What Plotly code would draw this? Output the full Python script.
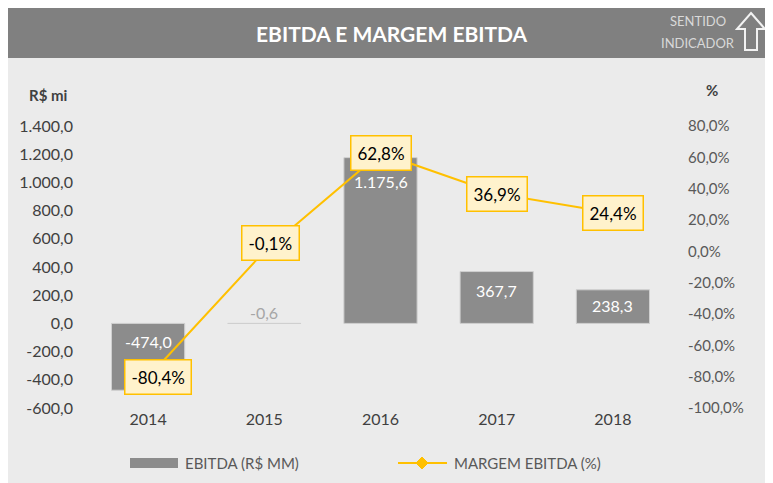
import plotly.graph_objects as go

years = ["2014", "2015", "2016", "2017", "2018"]
ebitda = [-474.0, -0.6, 1175.6, 367.7, 238.3]
margem = [-80.4, -0.1, 62.8, 36.9, 24.4]

y1_ticks = [-600, -400, -200, 0, 200, 400, 600, 800, 1000, 1200, 1400]
y1_labels = ["-600,0", "-400,0", "-200,0", "0,0", "200,0", "400,0", "600,0",
             "800,0", "1.000,0", "1.200,0", "1.400,0"]
y2_ticks = [-100, -80, -60, -40, -20, 0, 20, 40, 60, 80]
y2_labels = ["-100,0%", "-80,0%", "-60,0%", "-40,0%", "-20,0%", "0,0%",
             "20,0%", "40,0%", "60,0%", "80,0%"]

# label offsets (pixels)
box_dx = [10, 6, 0, 0, 0]
box_dy = [0, 8, 0, 0, 0]
bar_dy = [-18, 11, -24, -19, -16]

FONT = "Lato"
OFF = 8  # page body margin
W, H = 773, 483
L, R, T, B = 90 - OFF, W - (671 - OFF), 126 - OFF, H - (408 - OFF)
PW, PH = W - L - R, H - T - B


def xp(px):
    return (px - OFF - L) / PW


def yp(py):
    return (H - B - (py - OFF)) / PH


def br(v, dec=1):
    s = f"{abs(v):,.{dec}f}"
    s = s.replace(",", "X").replace(".", ",").replace("X", ".")
    return ("-" if v < 0 else "") + s


fig = go.Figure()
fig.add_trace(go.Bar(
    x=years, y=ebitda, marker=dict(color="#8c8c8c", line=dict(color="#cfcfcf", width=1)),
    width=0.63, yaxis="y", showlegend=False, hoverinfo="skip"))
fig.add_trace(go.Scatter(
    x=years, y=margem, mode="lines+markers", yaxis="y2",
    line=dict(color="#ffc000", width=2),
    marker=dict(symbol="diamond", size=9, color="#ffc000"),
    showlegend=False, hoverinfo="skip"))

ann = []
for i, (v, dy) in enumerate(zip(ebitda, bar_dy)):
    small = abs(v) < 50
    ann.append(dict(
        x=i, y=(0 if small else max(v, 0)), xref="x", yref="y",
        text=br(v), showarrow=False, xanchor="center", yanchor="middle",
        yshift=dy,
        font=dict(family=FONT, size=16, color=("#a6a6a6" if small else "white"))))
for i, (m, dx, dy) in enumerate(zip(margem, box_dx, box_dy)):
    ann.append(dict(
        x=i, y=m, xref="x", yref="y2", text=br(m) + "%", showarrow=False,
        xanchor="center", yanchor="middle",
        xshift=dx, yshift=dy, bgcolor="#fff2cc", bordercolor="#ffc000",
        borderwidth=1.5, borderpad=6,
        font=dict(family=FONT, size=17, color="black")))


def pa(x, y, text, size, color, xanchor="center"):
    return dict(x=xp(x), y=yp(y), xref="paper", yref="paper", text=text,
                showarrow=False, xanchor=xanchor, yanchor="middle",
                font=dict(family=FONT, size=size, color=color))


ann += [
    pa(392, 33, "<b>EBITDA E MARGEM EBITDA</b>", 21, "white"),
    pa(698, 21, "SENTIDO", 13, "#d9d9d9"),
    pa(698, 43, "INDICADOR", 13, "#d9d9d9"),
    pa(48, 95, "<b>R$ mi</b>", 15, "#404040"),
    pa(712, 90, "<b>%</b>", 15, "#404040"),
    pa(183, 463, "EBITDA (R$ MM)", 15, "#595959", "left"),
    pa(452, 463, "MARGEM EBITDA (%)", 15, "#595959", "left"),
]


def path(pts):
    return "M " + " L ".join(f"{xp(a):.5f},{yp(b):.5f}" for a, b in pts) + " Z"


shapes = [
    dict(type="rect", xref="paper", yref="paper", x0=xp(8), x1=xp(790), y0=yp(500), y1=yp(7),
         fillcolor="#ebebeb", line=dict(width=0), layer="below"),
    dict(type="rect", xref="paper", yref="paper", x0=xp(8), x1=xp(790), y0=yp(58), y1=yp(7),
         fillcolor="#808080", line=dict(width=0), layer="below"),
    dict(type="path", xref="paper", yref="paper",
         path=path([(751, 13), (765, 29), (757, 29), (757, 50), (745, 50), (745, 29), (737, 29)]),
         line=dict(color="#f2f2f2", width=2), fillcolor="rgba(0,0,0,0)"),
    dict(type="rect", xref="paper", yref="paper", x0=xp(130), x1=xp(178), y0=yp(468), y1=yp(458),
         fillcolor="#8c8c8c", line=dict(width=0)),
    dict(type="line", xref="paper", yref="paper", x0=xp(398), x1=xp(447), y0=yp(463), y1=yp(463),
         line=dict(color="#ffc000", width=2)),
    dict(type="path", xref="paper", yref="paper",
         path=path([(422, 457), (428, 463), (422, 469), (416, 463)]),
         fillcolor="#ffc000", line=dict(color="#ffc000", width=1)),
]

fig.update_layout(
    width=W, height=H, margin=dict(l=L, r=R, t=T, b=B, autoexpand=False),
    paper_bgcolor="white", plot_bgcolor="rgba(0,0,0,0)",
    font=dict(family=FONT, size=16, color="#404040"),
    xaxis=dict(type="category", range=[-0.5, 4.5], showgrid=False, showline=False,
               zeroline=False, ticks="", tickfont=dict(family=FONT, size=16, color="#404040")),
    yaxis=dict(range=[-600, 1400], tickvals=y1_ticks, ticktext=y1_labels, showgrid=False,
               zeroline=False, showline=False, ticks="", ticklabelstandoff=16,
               tickfont=dict(family=FONT, size=16, color="#404040")),
    yaxis2=dict(range=[-100, 80], tickvals=y2_ticks, ticktext=y2_labels, overlaying="y",
                side="right", showgrid=False, zeroline=False, showline=False, ticks="",
                ticklabelstandoff=16, tickfont=dict(family=FONT, size=15, color="#595959")),
    annotations=ann, shapes=shapes, bargap=0.37,
)

fig.write_html("out.html")
